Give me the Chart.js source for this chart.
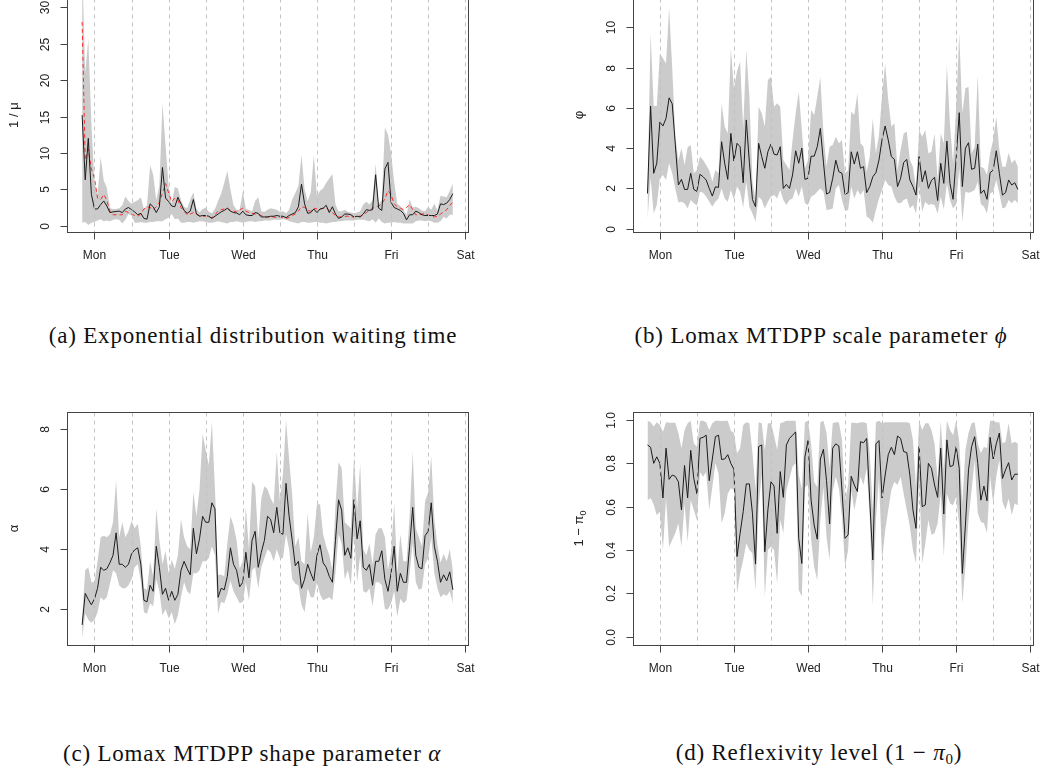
<!DOCTYPE html>
<html lang="en">
<head>
<meta charset="utf-8">
<title>Hourly posterior estimates</title>
<script src="https://cdn.jsdelivr.net/npm/chart.js"></script>
<style>
  html, body { margin: 0; padding: 0; background: #fff; }
  body { width: 1042px; height: 768px; position: relative; overflow: hidden; }
  canvas { position: absolute; }
  .caption {
    position: absolute;
    font-family: "Liberation Serif", "DejaVu Serif", serif;
    font-size: 23px;
    letter-spacing: 0.8px;
    color: #111;
    white-space: nowrap;
    transform: translate(-50%, -50%);
  }
  .caption sub { font-size: 15px; vertical-align: -4px; }
</style>
</head>
<body>
<canvas id="panelA" width="521" height="330" style="left:0;top:-40px"></canvas>
<canvas id="panelB" width="521" height="330" style="left:521px;top:-40px"></canvas>
<canvas id="panelC" width="521" height="330" style="left:0;top:370px"></canvas>
<canvas id="panelD" width="521" height="330" style="left:521px;top:370px"></canvas>

<div class="caption" style="left:253px;top:336px">(a) Exponential distribution waiting time</div>
<div class="caption" style="left:821px;top:336px">(b) Lomax MTDPP scale parameter <i>ϕ</i></div>
<div class="caption" style="left:252px;top:754px">(c) Lomax MTDPP shape parameter <i>α</i></div>
<div class="caption" style="left:819px;top:754px">(d) Reflexivity level (1 − <i>π</i><sub>0</sub>)</div>

<script>
// hours relative to Monday 00:00, one estimate per hour from Sun 20:00 to Fri 20:00
const hours = Array.from({ length: 121 }, (_, i) => i - 4)
const dayNames = ["Mon", "Tue", "Wed", "Thu", "Fri", "Sat"]
const dayHours = [0, 24, 48, 72, 96, 120]
const guideHours = [0, 12, 24, 36, 48, 60, 72, 84, 96, 108, 120]

// (a) exponential waiting time 1/mu
const aMean = [15.2, 6.3, 12.0, 4.3,
  2.3, 2.3, 2.9, 3.4, 2.7, 1.8, 1.9, 1.95, 2.0, 1.8, 2.3, 2.5,
  2.2, 1.9, 1.5, 1.7, 1.0, 0.9, 3.0, 2.6, 1.8, 2.6, 8.0, 3.8,
  3.3, 2.7, 2.6, 3.9, 3.0, 2.1, 1.7, 2.0, 3.6, 1.6, 1.3, 1.4,
  1.4, 1.3, 1.0, 1.3, 1.6, 1.9, 2.1, 2.4, 2.0, 1.8, 1.75, 1.5,
  2.0, 1.5, 1.4, 1.4, 1.8, 1.7, 1.2, 1.2, 1.2, 1.3, 1.3, 1.4,
  1.3, 1.3, 1.1, 1.4, 1.6, 1.8, 2.6, 5.7, 3.0, 1.7, 1.8, 2.3,
  1.8, 2.3, 2.4, 2.8, 1.8, 2.6, 1.6, 1.0, 1.2, 1.6, 1.6, 1.5,
  1.2, 1.3, 1.2, 1.6, 2.2, 2.1, 2.2, 7.0, 2.4, 2.1, 7.8, 8.7,
  3.2, 2.5, 2.3, 2.1, 1.7, 0.8, 1.5, 1.5, 2.0, 1.8, 1.5, 1.4,
  1.4, 1.4, 1.4, 1.6, 3.0, 2.9, 3.1, 3.6, 4.4]
const aRed = [28.0, 9.0, 10.5, 7.8,
  6.5, 3.8, 3.6, 4.3, 3.5, 2.0, 1.5, 1.5, 1.5, 1.5, 2.0, 1.8,
  1.6, 1.4, 1.3, 1.6, 2.3, 2.6, 2.5, 2.2, 2.6, 3.2, 4.5, 5.8,
  4.5, 3.3, 3.8, 3.5, 2.5, 2.0, 1.5, 1.6, 1.8, 1.6, 1.4, 1.3,
  1.3, 1.2, 1.1, 1.5, 2.0, 2.2, 2.3, 2.4, 2.1, 2.0, 1.9, 2.2,
  2.4, 2.0, 1.8, 1.7, 1.6, 1.5, 1.4, 1.2, 1.2, 1.2, 1.2, 1.1,
  1.2, 1.1, 1.0, 1.1, 1.4, 1.6, 2.0, 2.6, 2.5, 2.1, 2.0, 2.4,
  2.3, 2.2, 2.4, 2.5, 2.0, 1.8, 1.4, 1.2, 1.2, 1.3, 1.3, 1.2,
  1.2, 1.3, 1.3, 1.5, 1.8, 2.1, 2.4, 2.6, 2.7, 3.0, 3.7, 4.8,
  4.3, 3.0, 2.6, 2.4, 2.2, 2.5, 2.9, 2.2, 1.5, 1.5, 1.6, 1.7,
  1.5, 1.3, 1.2, 1.3, 1.6, 1.9, 2.2, 2.8, 3.2]
const aUpper = [36, 21.0, 25.7, 14.0,
  6.0, 4.3, 9.4, 6.2, 5.2, 2.4, 2.3, 2.3, 2.4, 2.8, 4.0, 3.4,
  3.0, 3.3, 3.5, 3.9, 2.3, 2.8, 8.3, 7.0, 3.5, 5.5, 16.8, 11.0,
  5.5, 3.0, 5.3, 5.1, 3.5, 2.6, 2.4, 3.6, 4.6, 2.3, 1.8, 2.3,
  2.5, 1.9, 1.7, 2.3, 3.4, 4.4, 5.9, 7.5, 5.0, 2.8, 2.2, 2.2,
  4.7, 2.3, 2.2, 2.0, 3.4, 3.9, 2.0, 1.9, 2.2, 2.4, 2.3, 2.2,
  1.9, 2.0, 1.7, 2.2, 3.6, 4.5, 5.5, 9.7, 5.0, 3.4, 4.6, 9.7,
  4.1, 4.8, 5.1, 5.9, 6.5, 7.1, 2.9, 2.0, 2.0, 2.2, 1.9, 1.8,
  1.7, 1.8, 2.0, 2.9, 3.3, 2.9, 3.5, 8.5, 3.0, 3.5, 13.5, 12.5,
  10.0, 6.0, 3.0, 2.7, 2.2, 1.5, 3.6, 2.5, 2.6, 2.4, 2.1, 2.0,
  2.6, 2.2, 3.0, 2.1, 4.1, 4.0, 3.9, 4.8, 5.8]
const aLower = [0.4, 0.5, 0.1, 0.4,
  0.5, 0.7, 0.9, 0.6, 0.7, 0.6, 0.8, 0.9, 0.8, 0.3, 0.8, 1.6,
  1.4, 0.4, 0.4, 0.5, 0.4, 0.4, 0.5, 0.5, 0.6, 0.6, 0.6, 0.9,
  1.1, 1.6, 0.9, 1.0, 0.4, 0.4, 0.5, 0.5, 0.4, 0.5, 0.6, 0.6,
  0.5, 0.4, 0.4, 0.5, 0.6, 0.5, 0.4, 0.3, 0.5, 0.5, 0.6, 0.5,
  0.4, 0.5, 0.6, 0.6, 0.5, 0.6, 0.6, 0.7, 0.7, 0.7, 0.8, 0.8,
  0.8, 0.9, 0.8, 0.6, 0.5, 0.4, 0.3, 0.5, 0.5, 0.4, 0.4, 0.5,
  0.5, 0.4, 0.4, 0.3, 0.4, 0.5, 0.5, 0.6, 0.6, 0.7, 0.7, 0.7,
  0.7, 0.8, 0.8, 0.8, 0.7, 0.6, 0.9, 0.4, 1.0, 0.5, 0.3, 0.4,
  0.4, 0.5, 0.4, 0.4, 0.3, 0.3, 0.3, 0.3, 0.6, 0.7, 0.7, 0.6,
  0.7, 0.6, 0.4, 0.4, 0.6, 1.2, 1.0, 1.5, 1.5]

// (b) Lomax scale phi
const bMean = [1.75, 6.09, 2.75, 3.25,
  5.3, 5.1, 5.48, 6.5, 6.2, 4.2, 2.17, 2.45, 1.95, 1.95, 2.75, 1.95,
  1.85, 2.7, 2.58, 2.42, 2.0, 1.62, 2.08, 2.05, 4.32, 3.25, 2.45, 4.73,
  3.36, 4.24, 4.07, 2.28, 5.4, 3.3, 1.45, 1.09, 4.24, 3.58, 3.0, 3.82,
  4.2, 3.7, 3.66, 4.07, 2.0, 2.2, 2.0, 2.67, 3.87, 3.25, 4.0, 2.45,
  2.5, 3.6, 3.6, 4.07, 4.98, 3.3, 1.72, 1.8, 2.5, 3.4, 2.83, 2.75,
  1.7, 1.79, 3.82, 3.21, 3.82, 3.0, 3.08, 1.79, 2.09, 2.58, 2.78, 3.41,
  4.44, 5.1, 4.4, 3.58, 3.44, 2.09, 2.5, 3.29, 3.44, 2.42, 2.09, 1.67,
  3.58, 2.33, 2.88, 2.0, 2.4, 2.55, 1.4, 3.25, 2.25, 4.35, 2.25, 1.46,
  3.5, 5.76, 2.09, 4.0, 4.27, 2.95, 3.0, 4.2, 1.75, 1.92, 1.46, 2.78,
  2.91, 3.87, 2.75, 1.67, 1.79, 2.42, 2.17, 2.28, 1.95]
const bUpper = [2.0, 9.7, 6.09, 6.09,
  8.7, 8.46, 8.2, 10.95, 8.0, 4.6, 3.4, 4.0, 3.16, 4.04, 4.15, 2.75,
  2.91, 3.58, 3.41, 3.16, 2.9, 2.33, 2.91, 2.75, 6.23, 5.07, 4.73, 8.96,
  6.97, 7.8, 8.3, 4.98, 8.87, 6.56, 2.33, 1.42, 6.06, 5.73, 5.07, 7.38,
  7.55, 6.06, 6.23, 6.06, 3.41, 3.16, 2.91, 4.4, 5.73, 6.8, 4.9, 3.0,
  3.41, 5.89, 5.65, 6.56, 7.52, 4.73, 3.1, 4.07, 4.15, 4.57, 4.24, 4.4,
  2.75, 2.9, 5.81, 5.65, 6.72, 4.24, 4.07, 2.8, 3.58, 5.48, 3.74, 4.65,
  6.64, 8.2, 6.39, 5.07, 5.23, 2.91, 3.91, 4.73, 4.82, 3.41, 3.08, 2.0,
  4.9, 4.57, 4.9, 3.74, 3.82, 4.73, 2.42, 4.73, 4.24, 8.13, 5.2, 3.25,
  6.0, 9.7, 5.73, 6.97, 7.05, 3.74, 4.07, 7.63, 3.08, 3.0, 2.67, 3.74,
  4.4, 5.56, 3.91, 3.08, 3.08, 3.77, 3.25, 3.44, 3.08]
const bLower = [0.45, 2.5, 0.76, 1.18,
  2.5, 2.67, 2.42, 3.25, 2.75, 2.0, 1.3, 1.34, 1.26, 1.0, 1.42, 1.26,
  1.15, 1.84, 1.79, 1.59, 1.34, 1.09, 1.34, 1.5, 2.0, 1.5, 1.34, 1.92,
  1.45, 2.09, 1.84, 1.06, 2.33, 1.09, 0.76, 0.35, 1.59, 1.42, 1.0, 1.34,
  1.59, 1.67, 1.5, 1.92, 1.42, 1.18, 1.42, 1.5, 2.0, 1.59, 2.09, 1.26,
  1.18, 1.59, 1.67, 1.84, 2.0, 1.85, 0.93, 0.95, 1.0, 2.0, 2.17, 1.42,
  0.89, 0.93, 2.09, 1.5, 1.92, 1.67, 1.92, 0.6, 0.51, 0.3, 0.93, 1.5,
  1.92, 2.42, 2.17, 2.09, 1.59, 1.29, 1.26, 1.42, 1.5, 1.0, 1.18, 0.76,
  2.17, 0.84, 1.34, 1.18, 1.23, 1.18, 0.76, 1.59, 0.96, 2.25, 1.42, 1.0,
  1.2, 3.0, 0.35, 1.84, 1.79, 1.84, 1.92, 2.33, 1.23, 1.09, 0.76, 1.75,
  1.84, 2.42, 1.75, 1.0, 1.06, 1.42, 1.26, 1.42, 1.26]

// (c) Lomax shape alpha
const cMean = [1.48, 2.53, 2.33, 2.15,
  2.35, 2.7, 3.4, 3.3, 3.35, 3.55, 3.8, 4.55, 3.5, 3.5, 3.4, 3.5,
  3.85, 3.98, 4.05, 3.5, 2.3, 2.25, 2.8, 2.6, 4.1, 3.4, 2.5, 2.7,
  2.3, 2.6, 2.3, 2.5, 3.3, 3.6, 3.35, 3.15, 4.7, 3.85, 4.35, 5.1,
  4.9, 4.9, 5.55, 5.35, 2.4, 2.7, 2.65, 3.1, 4.05, 3.5, 3.3, 2.75,
  2.9, 3.9, 3.05, 4.3, 4.6, 3.4, 3.9, 4.3, 5.1, 5.0, 4.55, 5.4,
  4.55, 4.5, 6.2, 5.1, 4.3, 3.45, 3.6, 2.7, 3.0, 3.5, 3.2, 2.95,
  3.8, 4.15, 3.55, 3.4, 3.1, 2.9, 4.3, 5.65, 5.3, 3.8, 4.05, 3.7,
  5.65, 4.35, 4.95, 3.4, 3.3, 3.5, 2.8, 3.6, 3.6, 3.95, 3.0, 2.6,
  3.2, 4.1, 2.6, 3.2, 2.9, 2.9, 4.1, 5.4, 3.8, 3.4, 3.35, 4.45,
  4.6, 5.55, 4.1, 3.6, 2.9, 3.15, 2.95, 3.25, 2.65]
const cUpper = [1.7, 3.3, 3.4, 2.9,
  2.9, 3.6, 4.4, 4.45, 4.4, 4.5, 4.9, 6.3, 4.4, 4.9, 4.4, 4.6,
  4.95, 4.7, 4.85, 4.1, 2.7, 2.65, 3.6, 3.1, 5.35, 4.3, 3.5, 3.95,
  3.2, 3.65, 3.35, 3.8, 5.0, 4.4, 4.1, 4.0, 5.9, 5.1, 6.0, 7.85,
  7.3, 6.8, 8.25, 6.0, 3.15, 3.15, 3.1, 4.2, 5.1, 4.8, 4.3, 3.35,
  3.6, 5.4, 4.0, 6.25, 6.1, 4.3, 5.7, 6.1, 6.0, 5.7, 5.5, 7.25,
  5.6, 6.5, 8.3, 7.0, 5.8, 4.1, 4.4, 3.6, 3.5, 5.2, 3.9, 4.4,
  5.5, 5.5, 4.5, 4.1, 3.8, 3.3, 5.5, 6.9, 6.7, 4.9, 4.8, 4.7,
  7.1, 5.3, 6.85, 4.0, 3.8, 4.2, 3.5, 4.5, 4.7, 4.7, 4.4, 3.3,
  3.9, 5.55, 3.2, 4.5, 3.6, 3.6, 5.1, 7.25, 4.7, 4.4, 4.1, 5.6,
  5.9, 7.1, 5.0, 4.15, 3.55, 3.85, 3.6, 4.0, 3.3]
const cLower = [1.05, 1.85, 1.65, 1.55,
  1.65, 1.9, 2.4, 2.3, 2.4, 2.85, 3.3, 3.2, 2.8, 2.7, 2.7, 2.8,
  3.0, 3.4, 3.5, 2.95, 1.9, 1.85, 2.2, 2.1, 3.0, 2.6, 1.8, 2.0,
  1.7, 1.9, 1.5, 1.8, 2.4, 2.9, 2.6, 2.5, 3.2, 3.2, 3.3, 3.6,
  3.6, 3.7, 4.1, 3.8, 1.85, 2.25, 2.2, 2.5, 2.95, 2.6, 2.4, 2.2,
  2.25, 2.9, 2.3, 3.3, 3.4, 2.7, 3.4, 3.7, 4.0, 3.9, 3.6, 4.0,
  3.7, 3.7, 4.5, 4.0, 3.0, 2.85, 2.8, 2.15, 1.9, 2.7, 2.4, 2.4,
  2.9, 2.5, 2.3, 2.35, 2.4, 2.3, 3.2, 4.5, 4.2, 3.0, 3.3, 2.8,
  4.6, 2.9, 3.8, 2.6, 2.55, 2.7, 2.1, 2.9, 2.9, 2.8, 2.0, 2.0,
  2.2, 2.6, 1.75, 2.35, 2.2, 2.3, 3.2, 4.2, 2.9, 2.65, 2.7, 3.5,
  3.7, 4.4, 3.2, 2.7, 2.4, 2.5, 2.45, 2.6, 2.2]

// (d) reflexivity 1 - pi0
const dMean = [0.885, 0.874, 0.80, 0.83,
  0.80, 0.64, 0.87, 0.726, 0.746, 0.74, 0.715, 0.585, 0.79, 0.64, 0.86, 0.73,
  0.66, 0.915, 0.92, 0.93, 0.72, 0.82, 0.923, 0.93, 0.818, 0.82, 0.84, 0.80,
  0.772, 0.37, 0.477, 0.577, 0.705, 0.705, 0.57, 0.335, 0.877, 0.885, 0.392, 0.585,
  0.715, 0.695, 0.477, 0.762, 0.643, 0.885, 0.915, 0.93, 0.945, 0.454, 0.338, 0.83,
  0.905, 0.63, 0.515, 0.45, 0.82, 0.865, 0.72, 0.52, 0.87, 0.89, 0.88, 0.677,
  0.454, 0.47, 0.74, 0.70, 0.67, 0.90, 0.895, 0.915, 0.63, 0.354, 0.89, 0.905,
  0.64, 0.746, 0.84, 0.874, 0.84, 0.926, 0.915, 0.854, 0.85, 0.746, 0.585, 0.50,
  0.877, 0.60, 0.608, 0.80, 0.777, 0.70, 0.643, 0.87, 0.566, 0.908, 0.785, 0.79,
  0.877, 0.777, 0.292, 0.515, 0.77, 0.877, 0.923, 0.80, 0.63, 0.695, 0.627, 0.92,
  0.82, 0.89, 0.94, 0.73, 0.77, 0.803, 0.723, 0.75, 0.75]
const dUpper = [0.997, 0.99, 0.97, 0.99,
  0.977, 0.946, 0.99, 0.987, 0.987, 0.987, 0.94, 0.87, 0.954, 0.985, 0.997, 0.892,
  0.877, 0.997, 0.997, 0.99, 0.954, 0.985, 0.997, 0.997, 0.995, 0.997, 0.997, 0.95,
  0.94, 0.846, 0.87, 0.977, 0.99, 0.985, 0.85, 0.68, 0.99, 0.985, 0.86, 0.985,
  0.985, 0.93, 0.862, 0.985, 0.99, 0.997, 0.997, 0.997, 0.997, 0.75, 0.68, 0.99,
  0.997, 0.89, 0.715, 0.69, 0.99, 0.997, 0.94, 0.777, 0.985, 0.99, 0.99, 0.908,
  0.63, 0.70, 0.987, 0.987, 0.985, 0.99, 0.99, 0.985, 0.846, 0.585, 0.99, 0.997,
  0.985, 0.99, 0.99, 0.99, 0.99, 0.99, 0.99, 0.99, 0.99, 0.985, 0.908, 0.69,
  0.997, 0.954, 0.985, 0.985, 0.954, 0.892, 0.723, 0.997, 0.77, 0.997, 0.954, 0.93,
  0.997, 0.90, 0.615, 0.862, 0.94, 0.985, 0.99, 0.892, 0.846, 0.877, 0.87, 0.997,
  0.997, 0.99, 0.99, 0.892, 0.90, 0.985, 0.892, 0.90, 0.892]
const dLower = [0.63, 0.64, 0.61, 0.56,
  0.577, 0.40, 0.64, 0.415, 0.446, 0.477, 0.523, 0.415, 0.615, 0.438, 0.63, 0.585,
  0.538, 0.76, 0.738, 0.76, 0.585, 0.69, 0.80, 0.754, 0.523, 0.57, 0.66, 0.685,
  0.677, 0.20, 0.292, 0.354, 0.43, 0.40, 0.385, 0.215, 0.60, 0.75, 0.185, 0.40,
  0.415, 0.40, 0.246, 0.54, 0.477, 0.677, 0.73, 0.785, 0.80, 0.215, 0.185, 0.69,
  0.70, 0.446, 0.323, 0.261, 0.538, 0.69, 0.46, 0.354, 0.67, 0.738, 0.685, 0.554,
  0.323, 0.40, 0.677, 0.585, 0.66, 0.738, 0.70, 0.777, 0.554, 0.146, 0.538, 0.73,
  0.354, 0.49, 0.585, 0.677, 0.715, 0.70, 0.738, 0.66, 0.585, 0.508, 0.40, 0.338,
  0.738, 0.338, 0.43, 0.538, 0.47, 0.477, 0.523, 0.66, 0.37, 0.66, 0.615, 0.607,
  0.646, 0.508, 0.154, 0.323, 0.538, 0.677, 0.815, 0.57, 0.53, 0.523, 0.477, 0.738,
  0.615, 0.738, 0.815, 0.623, 0.585, 0.638, 0.562, 0.615, 0.607]

const pts = vals => vals.map((v, i) => ({ x: hours[i], y: v }))

// base-graphics style frame: box, outward ticks, rotated y labels, dashed half-day guides
const rAxes = {
  id: "rAxes",
  afterDatasetsDraw(chart, args, opts) {
    const { ctx, chartArea: a, scales: { x, y } } = chart
    const left = Math.round(a.left) + 0.5, right = Math.round(a.right) + 0.5
    const top = Math.round(a.top) + 0.5, bottom = Math.round(a.bottom) + 0.5
    ctx.save()

    ctx.strokeStyle = "#c2c2c2"
    ctx.lineWidth = 1
    ctx.setLineDash([4, 4])
    guideHours.forEach(h => {
      const px = Math.round(x.getPixelForValue(h)) + 0.5
      ctx.beginPath(); ctx.moveTo(px, top); ctx.lineTo(px, bottom); ctx.stroke()
    })
    ctx.setLineDash([])

    ctx.strokeStyle = "#444"
    ctx.strokeRect(left, top, right - left, bottom - top)

    ctx.fillStyle = "#222"
    ctx.font = '12px "Liberation Sans", Arial, sans-serif'
    ctx.textAlign = "center"
    ctx.textBaseline = "middle"
    dayHours.forEach((h, i) => {
      const px = Math.round(x.getPixelForValue(h)) + 0.5
      ctx.beginPath(); ctx.moveTo(px, bottom); ctx.lineTo(px, bottom + 7); ctx.stroke()
      ctx.fillText(dayNames[i], px, a.bottom + 23)
    })

    opts.yTicks.forEach(v => {
      const py = Math.round(y.getPixelForValue(v)) + 0.5
      ctx.beginPath(); ctx.moveTo(left - 7, py); ctx.lineTo(left, py); ctx.stroke()
      ctx.save()
      ctx.translate(a.left - 21.5, py)
      ctx.rotate(-Math.PI / 2)
      ctx.fillText(v.toFixed(opts.decimals), 0, 0)
      ctx.restore()
    })

    // axis title, pieces may carry a smaller lowered subscript
    ctx.save()
    ctx.translate(a.left - 53, (a.top + a.bottom) / 2)
    ctx.rotate(-Math.PI / 2)
    ctx.textAlign = "left"
    const pieces = opts.title.map(p => {
      ctx.font = p.size + 'px "Liberation Sans", Arial, sans-serif'
      return { ...p, w: ctx.measureText(p.text).width }
    })
    let cx = -pieces.reduce((s, p) => s + p.w, 0) / 2
    pieces.forEach(p => {
      ctx.font = p.size + 'px "Liberation Sans", Arial, sans-serif'
      ctx.fillText(p.text, cx, p.dy || 0)
      cx += p.w
    })
    ctx.restore()

    ctx.restore()
  }
}

function drawPanel(id, cfg) {
  const datasets = [{ data: pts(cfg.mean), borderColor: "#1c1c1c", borderWidth: 1, order: 0 }]
  if (cfg.red) {
    datasets.push({ data: pts(cfg.red), borderColor: "#ff2b2b", borderWidth: 1, borderDash: [4, 3], order: 1 })
  }
  datasets.push({ data: pts(cfg.upper), borderColor: "rgba(0,0,0,0)", borderWidth: 0, backgroundColor: "#cbcbcb", fill: "+1", order: 2 })
  datasets.push({ data: pts(cfg.lower), borderColor: "rgba(0,0,0,0)", borderWidth: 0, fill: false, order: 3 })

  new Chart(document.getElementById(id), {
    type: "line",
    data: { datasets },
    options: {
      responsive: false,
      animation: false,
      events: [],
      layout: { padding: cfg.padding },
      elements: { point: { radius: 0 }, line: { tension: 0 } },
      scales: {
        x: { type: "linear", display: false, min: -8.8, max: 120.8 },
        y: { type: "linear", display: false, min: cfg.yMin, max: cfg.yMax }
      },
      plugins: {
        legend: { display: false },
        tooltip: { enabled: false },
        rAxes: { yTicks: cfg.yTicks, decimals: cfg.decimals, title: cfg.title }
      }
    },
    plugins: [rAxes]
  })
}

const leftPad = { left: 67.3, right: 53.3 }
const rightPad = { left: 111.7, right: 9.3 }

drawPanel("panelA", {
  mean: aMean, red: aRed, upper: aUpper, lower: aLower,
  padding: { ...leftPad, top: 38, bottom: 57.7 },
  yMin: -0.907, yMax: 31.28, yTicks: [0, 5, 10, 15, 20, 25, 30], decimals: 0,
  title: [{ text: "1 / μ", size: 13 }]
})
drawPanel("panelB", {
  mean: bMean, upper: bUpper, lower: bLower,
  padding: { ...rightPad, top: 38, bottom: 57.7 },
  yMin: -0.179, yMax: 11.455, yTicks: [0, 2, 4, 6, 8, 10], decimals: 0,
  title: [{ text: "φ", size: 13 }]
})
drawPanel("panelC", {
  mean: cMean, upper: cUpper, lower: cLower,
  padding: { ...leftPad, top: 41.7, bottom: 54.7 },
  yMin: 0.8, yMax: 8.587, yTicks: [2, 4, 6, 8], decimals: 0,
  title: [{ text: "α", size: 13 }]
})
drawPanel("panelD", {
  mean: dMean, upper: dUpper, lower: dLower,
  padding: { ...rightPad, top: 41.7, bottom: 54.7 },
  yMin: -0.0397, yMax: 1.0383, yTicks: [0, 0.2, 0.4, 0.6, 0.8, 1.0], decimals: 1,
  title: [{ text: "1 − π", size: 13 }, { text: "0", size: 9, dy: 4 }]
})
</script>
</body>
</html>
